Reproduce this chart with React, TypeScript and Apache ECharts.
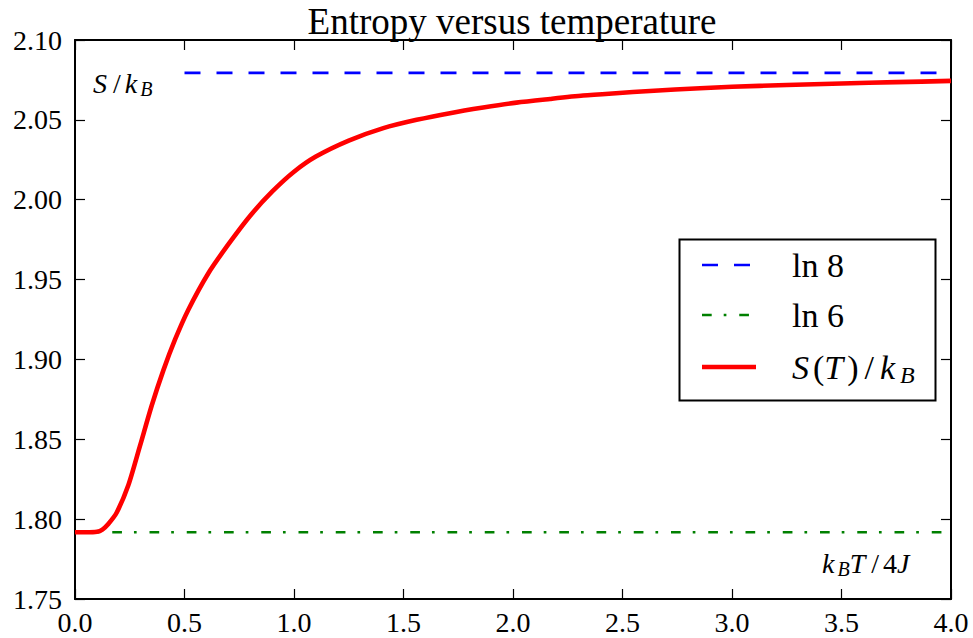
import { useEffect, useRef } from "react";
import * as echarts from "echarts";

const FONT = "'Liberation Serif', 'Times New Roman', serif";

const titleText = "Entropy versus temperature";

// axis ranges
const xRange = [0, 4];
const xStep = 0.5;
const yRange = [1.75, 2.1];
const yStep = 0.05;

// S(T)/k_B
const tempX = [
  0, 0.05, 0.1, 0.125, 0.152, 0.19, 0.243, 0.297, 0.35, 0.403, 0.457, 0.517,
  0.609, 0.7, 0.8, 0.9, 1.0, 1.1, 1.25, 1.408, 1.56, 1.712, 1.864, 2.016,
  2.169, 2.32, 2.47, 2.625, 2.854, 3.0, 3.25, 3.5, 3.75, 4.0,
];
const entropyS = [
  1.7918, 1.7918, 1.7921, 1.7935, 1.797, 1.804, 1.821, 1.846, 1.871, 1.893,
  1.9125, 1.931, 1.954, 1.972, 1.99, 2.005, 2.0175, 2.027, 2.037, 2.0448, 2.05,
  2.0542, 2.0577, 2.0608, 2.0631, 2.0652, 2.0667, 2.0681, 2.0698, 2.0707,
  2.0718, 2.0728, 2.0736, 2.0744,
];

// reference levels
const ln8Value = 2.0794;
const ln8Range = [0.5, 4.0];
const ln6Value = 1.7918;
const ln6Range = [0.0, 4.0];

const seriesNames = ["ln 8", "ln 6", "S(T)/k_B"];

const BLUE_DASH = [16, 16];
const GREEN_DASHDOT = [9.7, 12, 2.7, 12.85];

function makeRich(size: number, subSize: number, italPad: number, slashPad: number) {
  const lh = Math.round(size * 1.15);
  return {
    i: { fontFamily: FONT, fontStyle: "italic", fontSize: size, lineHeight: lh, padding: [0, italPad, 0, 0], fill: "#000" },
    n: { fontFamily: FONT, fontSize: size, lineHeight: lh, fill: "#000" },
    sl: { fontFamily: FONT, fontSize: size, lineHeight: lh, padding: [0, slashPad, 0, slashPad], fill: "#000" },
    s: {
      fontFamily: FONT,
      fontStyle: "italic",
      fontSize: subSize,
      lineHeight: subSize,
      padding: [lh - subSize, 0, 0, 1],
      fill: "#000",
    },
  };
}

const annoRich = makeRich(28, 20, 2, 4);
const legendRich = makeRich(34, 24, 4, 6);

function richText(x: number, y: number, text: string, rich: any) {
  return {
    type: "text",
    x,
    y,
    z: 20,
    style: { text, rich, align: "left", verticalAlign: "middle", fill: "#000" },
  };
}

function buildOption() {
  const axisCommon = {
    type: "value",
    axisLine: { show: true, onZero: false, lineStyle: { color: "#000", width: 2 } },
    axisTick: { show: true, inside: true, length: 10, lineStyle: { color: "#000", width: 1.2 } },
    splitLine: { show: false },
  };
  const labelStyle = { color: "#000", fontFamily: FONT, fontSize: 28 };

  const legendX0 = 702;
  const legendX1 = 755;
  const legendRows = [265, 315, 367];

  return {
    animation: false,
    backgroundColor: "#fff",
    title: {
      text: titleText,
      left: 512,
      top: 2,
      padding: 0,
      textAlign: "center",
      textStyle: { color: "#000", fontFamily: FONT, fontSize: 37, fontWeight: "normal", lineHeight: 38 },
    },
    grid: { left: 75, right: 22, top: 40, bottom: 39, containLabel: false },
    xAxis: [
      {
        ...axisCommon,
        position: "bottom",
        min: xRange[0],
        max: xRange[1],
        interval: xStep,
        axisLabel: { ...labelStyle, margin: 9, formatter: (v: number) => v.toFixed(1) },
      },
      {
        ...axisCommon,
        position: "top",
        min: xRange[0],
        max: xRange[1],
        interval: xStep,
        axisLabel: { show: false },
      },
    ],
    yAxis: [
      {
        ...axisCommon,
        position: "left",
        min: yRange[0],
        max: yRange[1],
        interval: yStep,
        axisLabel: { ...labelStyle, margin: 13, formatter: (v: number) => v.toFixed(2) },
      },
      {
        ...axisCommon,
        position: "right",
        min: yRange[0],
        max: yRange[1],
        interval: yStep,
        axisLabel: { show: false },
      },
    ],
    series: [
      {
        name: seriesNames[0],
        type: "line",
        data: ln8Range.map((x) => [x, ln8Value]),
        symbol: "none",
        lineStyle: { color: "#0000ff", width: 2.6, type: BLUE_DASH, cap: "butt" },
        z: 3,
      },
      {
        name: seriesNames[1],
        type: "line",
        data: ln6Range.map((x) => [x, ln6Value]),
        symbol: "none",
        lineStyle: { color: "#008000", width: 2.6, type: GREEN_DASHDOT, cap: "butt" },
        z: 3,
      },
      {
        name: seriesNames[2],
        type: "line",
        data: tempX.map((x, i) => [x, entropyS[i]]),
        symbol: "none",
        smooth: 0.25,
        lineStyle: { color: "#ff0000", width: 4.6, join: "round" },
        z: 4,
      },
    ],
    graphic: [
      richText(93, 83, "{i|S}{sl|/}{i|k}{s|B}", annoRich),
      richText(822, 563, "{i|k}{s|B}{i|T}{sl|/}{n|4}{i|J}", annoRich),
      {
        type: "rect",
        z: 10,
        shape: { x: 679.5, y: 239.5, width: 256, height: 161 },
        style: { fill: "#fff", stroke: "#000", lineWidth: 2 },
      },
      {
        type: "line",
        z: 11,
        shape: { x1: legendX0, y1: legendRows[0], x2: legendX1, y2: legendRows[0] },
        style: { stroke: "#0000ff", lineWidth: 2.6, lineDash: BLUE_DASH },
      },
      {
        type: "line",
        z: 11,
        shape: { x1: legendX0, y1: legendRows[1], x2: legendX1, y2: legendRows[1] },
        style: { stroke: "#008000", lineWidth: 2.6, lineDash: GREEN_DASHDOT },
      },
      {
        type: "line",
        z: 11,
        shape: { x1: legendX0, y1: legendRows[2], x2: legendX1 + 1, y2: legendRows[2] },
        style: { stroke: "#ff0000", lineWidth: 4.6 },
      },
      richText(792, legendRows[0], "{n|ln 8}", legendRich),
      richText(792, legendRows[1], "{n|ln 6}", legendRich),
      richText(792, legendRows[2], "{i|S}{n|(}{i|T}{n|)}{sl|/}{i|k}{s|B}", legendRich),
    ],
  };
}

export default function App() {
  const ref = useRef<HTMLDivElement>(null);
  useEffect(() => {
    document.body.style.margin = "0";
    const chart = echarts.init(ref.current as HTMLDivElement, null, { renderer: "svg" });
    chart.setOption(buildOption() as any);
    return () => chart.dispose();
  }, []);
  return <div ref={ref} style={{ width: 973, height: 638 }} />;
}
